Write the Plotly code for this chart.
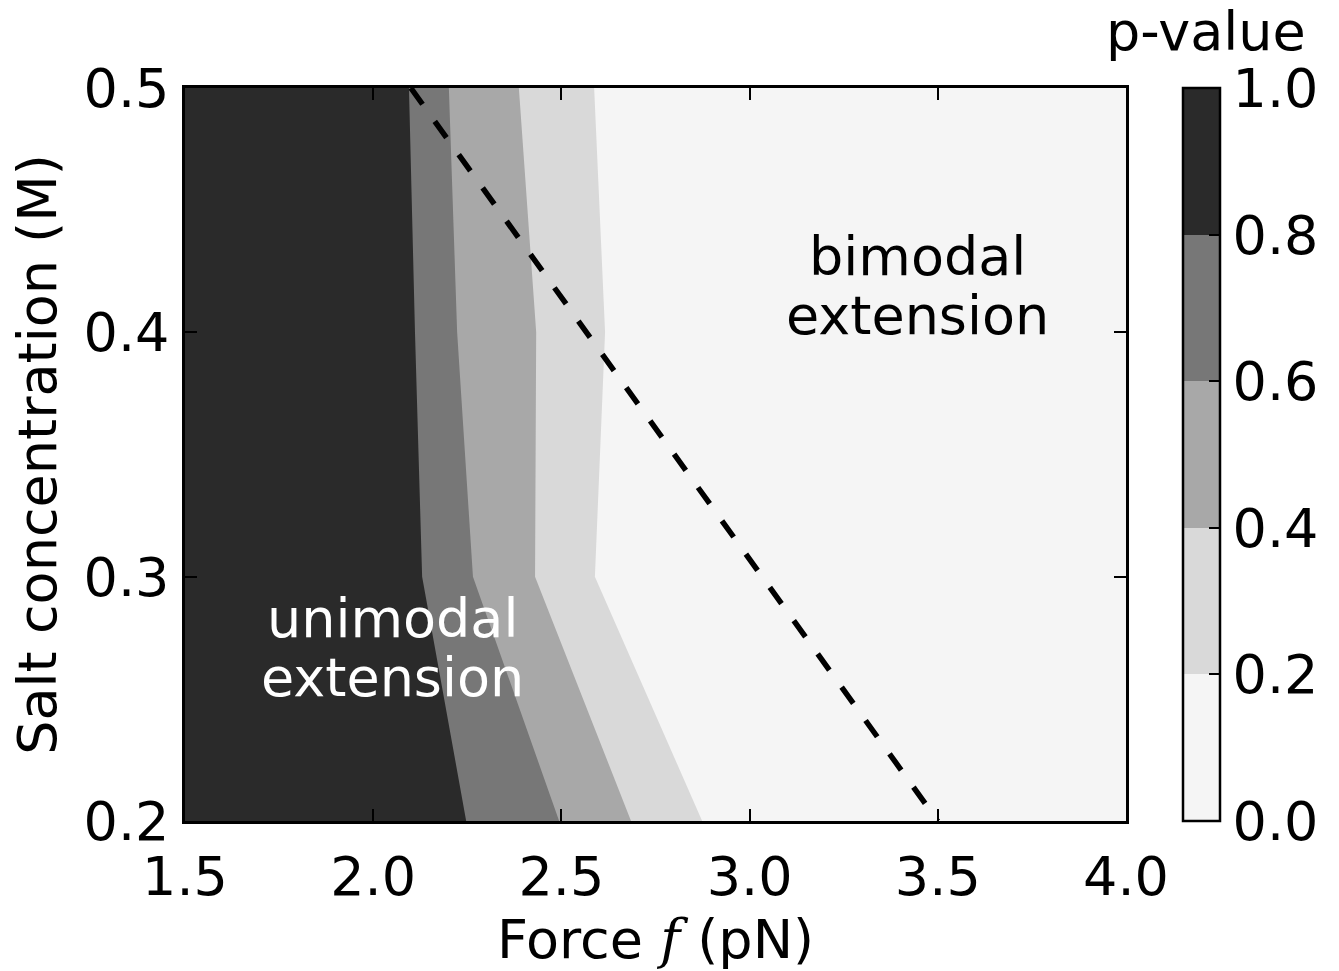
import plotly.graph_objects as go

# ---- data ----
salt = [0.2, 0.3, 0.4, 0.5]                    # salt concentration rows (M)
# force (pN) where each p-value contour level crosses each salt row
b08 = [2.247, 2.130, 2.111, 2.095]
b06 = [2.494, 2.265, 2.223, 2.201]
b04 = [2.685, 2.430, 2.433, 2.387]
b02 = [2.874, 2.589, 2.616, 2.587]
levels = [0.0, 0.2, 0.4, 0.6, 0.8, 1.0]
band_colors = ["#f5f5f5", "#d9d9d9", "#a8a8a8", "#777777", "#2a2a2a"]
divider_force = [2.1, 3.5]
divider_salt = [0.5, 0.2]
x_ticks = [1.5, 2.0, 2.5, 3.0, 3.5, 4.0]
y_ticks = [0.2, 0.3, 0.4, 0.5]
cb_ticks = [0.0, 0.2, 0.4, 0.6, 0.8, 1.0]

FONT = "DejaVu Sans"
FS = 54
XMIN, XMAX = 1.5, 4.0
YMIN, YMAX = 0.2, 0.5

fig = go.Figure()

# filled bands: each polygon spans from the left edge to a contour boundary,
# drawn from lighter to darker so darker bands overlay
for bnd, col in [(b02, band_colors[1]), (b04, band_colors[2]),
                 (b06, band_colors[3]), (b08, band_colors[4])]:
    xs = [XMIN] + bnd + [XMIN]
    ys = [salt[0]] + salt + [salt[-1]]
    fig.add_trace(go.Scatter(x=xs, y=ys, mode="lines", fill="toself",
                             fillcolor=col, line=dict(width=0, color=col),
                             hoverinfo="skip", showlegend=False))

# dashed divider
fig.add_trace(go.Scatter(x=divider_force, y=divider_salt, mode="lines",
                         line=dict(color="black", width=5.5, dash="20px,21px"),
                         showlegend=False, hoverinfo="skip"))

# colour bar via dummy marker trace
cs = []
for i, c in enumerate(band_colors):
    cs.append([levels[i], c])
    cs.append([levels[i + 1], c])
fig.add_trace(go.Scatter(
    x=[None], y=[None], mode="markers", showlegend=False, hoverinfo="skip",
    marker=dict(color=[0, 1], cmin=0, cmax=1, colorscale=cs, showscale=True,
                colorbar=dict(x=1.0606, xanchor="left", xref="paper",
                              y=0, yanchor="bottom", len=1, lenmode="fraction",
                              thickness=37, outlinewidth=2.5, outlinecolor="black",
                              tickvals=cb_ticks, ticktext=[f"{v:.1f}" for v in cb_ticks],
                              ticks="inside", ticklen=12, tickwidth=1.5, tickcolor="black",
                              tickfont=dict(family=FONT, size=FS, color="black"),
                              ypad=0, xpad=0))))

# text labels
def label(txt, x, y, color):
    fig.add_annotation(x=x, y=y, xref="x", yref="y", text=txt, showarrow=False,
                       xanchor="center", yanchor="middle",
                       font=dict(family=FONT, size=FS, color=color))

label("bimodal", 3.445, 0.4309, "black")
label("extension", 3.445, 0.4068, "black")
label("unimodal", 2.05, 0.2830, "white")
label("extension", 2.05, 0.2589, "white")

# colour bar title
fig.add_annotation(x=1.085, y=1.077, xref="paper", yref="paper", text="p-value",
                   showarrow=False, xanchor="center", yanchor="middle",
                   font=dict(family=FONT, size=FS, color="black"))

axis_common = dict(showline=True, linecolor="black", linewidth=2.5, mirror="allticks",
                   ticks="inside", ticklen=12, tickwidth=1.5, tickcolor="black",
                   showgrid=False, zeroline=False,
                   tickfont=dict(family=FONT, size=FS, color="black"))

fig.update_xaxes(range=[XMIN, XMAX], tickvals=x_ticks,
                 ticktext=[f"{v:.1f}" for v in x_ticks], ticklabelstandoff=6,
                 title=dict(text="Force <span style=\"font-family:'DejaVu Serif';font-style:italic\">f</span> (pN)",
                            font=dict(family=FONT, size=FS, color="black"), standoff=12),
                 **axis_common)
fig.update_yaxes(range=[YMIN, YMAX], tickvals=y_ticks,
                 ticktext=[f"{v:.1f}" for v in y_ticks], ticklabelstandoff=2,
                 title=dict(text="Salt concentration (M)",
                            font=dict(family=FONT, size=FS, color="black"), standoff=10),
                 **axis_common)

fig.update_layout(width=1339, height=971,
                  margin=dict(l=185, r=213, t=88, b=150, autoexpand=False),
                  paper_bgcolor="white", plot_bgcolor=band_colors[0],
                  showlegend=False)

fig.write_html("out.html")
